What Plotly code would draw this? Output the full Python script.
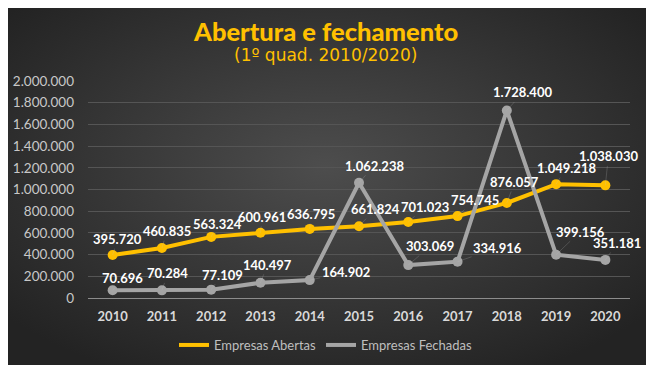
import base64
import plotly.graph_objects as go

years = ["2010", "2011", "2012", "2013", "2014", "2015", "2016", "2017", "2018", "2019", "2020"]
abertas = [395720, 460835, 563324, 600961, 636795, 661824, 701023, 754745, 876057, 1049218, 1038030]
fechadas = [70696, 70284, 77109, 140497, 164902, 1062238, 303069, 334916, 1728400, 399156, 351181]
y_ticks = [0, 200000, 400000, 600000, 800000, 1000000, 1200000, 1400000, 1600000, 1800000, 2000000]
y_tick_text = ["0", "200.000", "400.000", "600.000", "800.000", "1.000.000", "1.200.000",
               "1.400.000", "1.600.000", "1.800.000", "2.000.000"]

def fmt(v):
    return f"{v:,}".replace(",", ".")

# label offsets (pixels) for data labels
ab_off = [(5, -16), (5, -17), (6, -13), (2, -16), (1, -15), (16, -17), (17, -15), (17, -16), (8, -21), (10, -16), (3, -29)]
fe_off = [(10, -12), (6, -17), (11, -15), (7, -18), (36, -8), (15, -17), (22, -19), (40, -14), (16, -18), (24, -23), (12, -17)]

YELLOW = "#FFC000"
GREY = "#A5A5A5"
FONT = "Lato"

OFF = 8  # page body margin
W, H = 657 - OFF, 372 - OFF
L, T = 88 - OFF, 81 - OFF
pw, ph = 542, 217
R, B = W - L - pw, H - T - ph
base_y = 298  # reference pixel row of y=0

def py(ref_y):
    return (base_y - ref_y) / ph

def px(ref_x):
    return (ref_x - 88) / pw

svg = ('<svg xmlns="http://www.w3.org/2000/svg" width="641" height="362" viewBox="0 0 641 362">'
       '<defs><radialGradient id="g" cx="50%" cy="45%" r="65%">'
       '<stop offset="0%" stop-color="#4d4d4d"/><stop offset="100%" stop-color="#232323"/>'
       '</radialGradient></defs><rect width="641" height="362" fill="url(#g)"/></svg>')
src = "data:image/svg+xml;base64," + base64.b64encode(svg.encode()).decode()

fig = go.Figure()
for name, vals, col in (("Empresas Abertas", abertas, YELLOW), ("Empresas Fechadas", fechadas, GREY)):
    fig.add_trace(go.Scatter(x=years, y=vals, name=name, mode="lines",
                             line=dict(color=col, width=4)))
    fig.add_trace(go.Scatter(x=years, y=vals, name=name, mode="markers", showlegend=False,
                             marker=dict(size=10, color=col)))

ann = []
for i, y in enumerate(years):
    for vals, offs in ((abertas, ab_off), (fechadas, fe_off)):
        ax, ay = offs[i]
        ann.append(dict(x=i, y=vals[i], text=fmt(vals[i]), showarrow=True, ax=ax, ay=ay,
                        arrowhead=0, arrowwidth=0.6, arrowcolor="rgba(200,200,200,0.35)",
                        font=dict(family=FONT, size=13, color="#ffffff", weight="bold")))

ann.append(dict(xref="paper", yref="paper", x=px(325), y=py(31), text="Abertura e fechamento",
                showarrow=False, xanchor="center", yanchor="middle",
                font=dict(family=FONT, size=25.5, color="#FFC000", weight=900)))
ann.append(dict(xref="paper", yref="paper", x=px(325), y=py(55), text="(1º quad. 2010/2020)",
                showarrow=False, xanchor="center", yanchor="middle",
                font=dict(family="DejaVu Sans", size=17, color="#FFC000")))

fig.update_layout(
    width=W, height=H, margin=dict(l=L, r=R, t=T, b=B, autoexpand=False),
    paper_bgcolor="#ffffff", plot_bgcolor="rgba(0,0,0,0)",
    images=[dict(source=src, xref="paper", yref="paper", x=px(5), y=py(3),
                 sizex=641 / pw, sizey=362 / ph, sizing="stretch", xanchor="left", yanchor="top",
                 layer="below")],
    annotations=ann,
    showlegend=True,
    legend=dict(orientation="h", x=px(326), xanchor="center", y=py(345), yanchor="middle",
                font=dict(family=FONT, size=13, color="#bfbfbf"), bgcolor="rgba(0,0,0,0)",
                itemwidth=30, tracegroupgap=0),
    xaxis=dict(type="category", range=[-0.5, 10.5], showgrid=False, showline=True,
               linecolor="#8c8c8c", linewidth=1, ticks="",
               tickfont=dict(family=FONT, size=13, color="#d9d9d9", weight="bold"), ticklabelstandoff=6),
    yaxis=dict(range=[0, 2000000], tickvals=y_ticks, ticktext=y_tick_text, showgrid=True,
               gridcolor="#555555", gridwidth=1, zeroline=False, showline=False,
               tickfont=dict(family=FONT, size=13.5, color="#c8c8c8"), ticklabelstandoff=13),
)

fig.write_html("out.html")
